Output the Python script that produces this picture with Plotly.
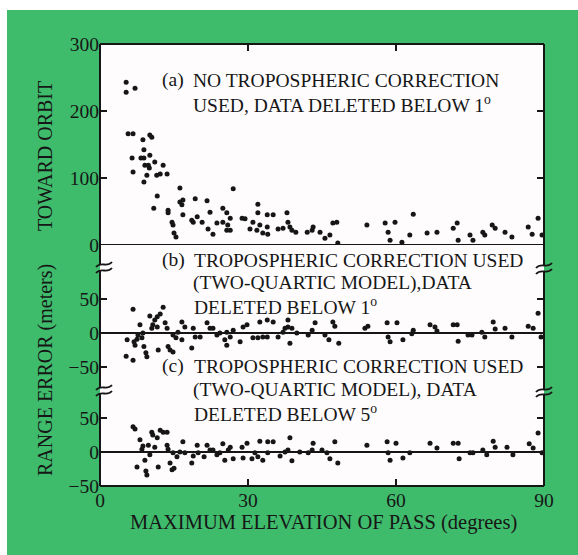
import plotly.graph_objects as go

# Range error vs. maximum elevation of pass, three correction cases
xa = [5.3, 5.3, 7.1, 5.7, 6.7, 6.5, 6.7, 8.7, 8.9, 8.9, 9.1, 9.5, 8.3, 10.1, 10.5, 9.8, 10.0, 10.1,
      8.9, 11.1, 11.5, 12.2, 12.8, 13.6, 10.9, 11.6, 13.8, 13.8, 14.6, 14.8, 15.0, 15.4, 16.2, 16.2,
      16.8, 16.6, 16.8, 19.3, 18.6, 18.9, 19.7, 20.7, 21.7, 22.3, 21.9, 22.9, 23.7, 24.9, 24.9, 25.7,
      25.9, 25.7, 26.4, 26.4, 27.0, 28.8, 29.4, 30.4, 31.0, 31.8, 32.0, 32.0, 32.4, 33.0, 33.9, 33.9,
      34.0, 35.1, 36.1, 37.1, 37.9, 38.1, 38.5, 38.9, 39.7, 42.0, 43.0, 43.2, 44.6, 45.6, 46.6, 47.2,
      48.0, 48.2, 54.1, 57.8, 58.4, 59.8, 58.8, 61.2, 62.8, 63.5, 66.3, 68.3, 71.6, 72.4, 72.6, 75.0,
      75.6, 77.6, 78.0, 79.5, 80.1, 82.1, 83.5, 86.8, 87.6, 88.8, 89.6]
ya = [243, 228, 234, 166, 166, 130, 109, 157, 142, 130, 119, 104, 130, 164, 161, 119, 115, 134,
      94, 124, 104, 106, 119, 106, 55, 73, 52, 48, 34, 30, 18, 12, 85, 64,
      67, 60, 45, 69, 37, 34, 42, 34, 66, 49, 24, 16, 33, 55, 34, 48,
      30, 22, 40, 22, 84, 40, 39, 24, 34, 22, 61, 48, 30, 18, 45, 27,
      16, 45, 24, 25, 48, 34, 27, 22, 19, 19, 22, 27, 19, 10, 15, 33,
      34, 3, 30, 33, 19, 34, 7, 4, 15, 46, 18, 19, 25, 33, 7, 15,
      7, 19, 15, 30, 25, 19, 12, 27, 16, 40, 15]

xb = [5.5, 5.3, 6.7, 6.7, 6.9, 7.1, 7.5, 7.7, 8.1, 8.5, 8.7, 8.9, 9.3, 9.5, 10.1, 10.5, 10.7, 11.1,
      11.6, 11.6, 11.8, 12.2, 12.8, 13.2, 13.6, 13.8, 14.2, 14.8, 14.8, 15.4, 15.8, 16.6, 16.6, 17.2,
      18.6, 18.9, 19.3, 20.3, 21.7, 22.3, 22.9, 23.7, 24.3, 25.3, 25.7, 25.7, 26.4, 27.0, 28.4, 29.0,
      29.8, 31.0, 32.0, 32.4, 33.0, 33.9, 33.9, 35.1, 36.1, 37.1, 37.5, 38.1, 38.1, 38.5, 38.9, 39.9,
      42.2, 43.0, 43.6, 45.6, 46.4, 47.2, 47.6, 48.4, 53.7, 54.3, 58.2, 58.4, 58.8, 60.2, 61.4, 63.2,
      63.5, 66.9, 67.9, 68.3, 71.6, 72.4, 72.6, 74.6, 75.4, 77.4, 78.0, 79.7, 80.1, 82.1, 83.5, 86.8,
      87.8, 88.8, 89.4]
yb = [-10, -34, 35, -40, -13, -18, -9, -3, 12, -7, 0, -20, -29, -35, 25, 7, 12, 19,
      24, 9, -25, 28, 38, 15, 7, -20, -25, -28, -3, -7, 1, 16, -10, 9,
      -22, 7, -6, -6, 15, 7, 7, -3, 0, -10, 1, -18, -6, 4, -13, 9,
      12, -7, -7, 16, -6, 19, -6, 16, -6, 1, 7, 19, 9, -15, 7, 0,
      -3, 4, 15, -3, -10, 16, 10, -15, 7, 10, 15, -6, -13, 15, -10, -1,
      4, 12, 9, 3, 12, 12, -12, -3, -3, 1, -6, 16, 6, 7, -6, 10,
      7, 29, -6]

xc = [6.7, 7.1, 7.5, 8.1, 8.5, 8.7, 9.1, 9.3, 9.5, 9.8, 10.1, 10.5, 10.7, 11.1, 11.6, 11.8, 12.2, 12.8,
      13.6, 13.6, 13.8, 14.2, 14.6, 15.0, 14.8, 15.6, 16.2, 16.8, 17.2, 18.6, 18.9, 19.7, 19.9, 21.1,
      21.7, 22.3, 22.9, 23.7, 24.3, 24.9, 25.3, 26.0, 26.4, 27.0, 28.8, 29.0, 29.8, 30.8, 31.4, 32.0,
      32.4, 33.0, 34.0, 34.0, 35.1, 36.5, 37.5, 38.5, 38.1, 38.9, 40.5, 42.2, 43.2, 43.0, 45.0, 46.0,
      46.6, 47.6, 48.2, 54.1, 58.2, 58.4, 58.8, 60.0, 61.4, 62.8, 66.9, 68.3, 71.6, 72.6, 72.8, 75.0,
      75.6, 77.6, 78.4, 79.7, 80.1, 82.5, 83.7, 87.0, 87.8, 88.8, 89.6]
yc = [37, 34, -22, 18, 4, 9, -12, -28, -34, 10, -4, 29, 25, 7, 21, -22, 32, 29,
      29, 10, 4, -16, -26, -24, -1, -7, 0, 15, -1, -16, -6, 10, -1, -7,
      10, 3, 3, -4, -1, 12, -12, 3, 7, -10, 7, -9, 13, -10, -1, -7,
      16, -12, 15, -1, 15, -6, 0, 21, 3, -13, 0, -1, 13, 3, 3, -1,
      -10, 15, -16, 10, 15, -1, -12, 13, -9, -1, 13, 6, 13, 13, -10, -1,
      -1, 3, -4, 16, 7, 7, -4, 12, 6, 28, -1]

x_ticks = [0, 30, 60, 90]
ya_ticks = [0, 100, 200, 300]
yb_ticks = [-50, 0, 50]
yc_ticks = [-50, 0, 50]

W, H = 578, 555
L, R, T, B = 100, 544, 44, 486
FONT = "Liberation Serif"
INK = "#161616"
GREEN = "#3fbb6c"


def fx(p):
    return (p - L) / (R - L)


def fy(p):
    return (B - p) / (B - T)


dom_a = [fy(245), 1.0]
dom_b = [fy(390), fy(245)]
dom_c = [0.0, fy(390)]

marker = dict(size=5, color=INK)
fig = go.Figure()
fig.add_trace(go.Scatter(x=xa, y=ya, mode="markers", marker=marker, xaxis="x2", yaxis="y"))
fig.add_trace(go.Scatter(x=xb, y=yb, mode="markers", marker=marker, xaxis="x", yaxis="y2"))
fig.add_trace(go.Scatter(x=xc, y=yc, mode="markers", marker=marker, xaxis="x", yaxis="y3"))

tickfont = dict(family=FONT, size=19.5, color=INK)
common_y = dict(ticks="inside", ticklen=7, tickwidth=1.5, tickcolor=INK, showgrid=False,
                zeroline=False, showline=False, mirror="ticks", tickfont=tickfont,
                fixedrange=True)
common_x = dict(range=[0, 90], tickvals=x_ticks, ticks="inside", ticklen=7, tickwidth=1.5,
                tickcolor=INK, showgrid=False, zeroline=False, showline=False,
                tickfont=tickfont, fixedrange=True)

fig.update_layout(
    width=W, height=H, autosize=False,
    margin=dict(l=L, r=W - R, t=T, b=H - B, pad=0),
    paper_bgcolor=GREEN, plot_bgcolor="#fefcfd",
    showlegend=False,
    xaxis=dict(common_x, anchor="y3", domain=[0, 1]),
    xaxis2=dict(common_x, anchor="y", domain=[0, 1], side="top", matches="x",
                showticklabels=False),
    yaxis=dict(common_y, anchor="x2", domain=dom_a, range=[0, 300], tickvals=ya_ticks),
    yaxis2=dict(common_y, anchor="x", domain=dom_b, range=[-83.8, 129.4], tickvals=yb_ticks),
    yaxis3=dict(common_y, anchor="x", domain=dom_c, range=[-50, 91.2], tickvals=yc_ticks),
)

shapes = []
line = dict(color=INK, width=2)

# white margins around the green page
shapes.append(dict(type="rect", xref="paper", yref="paper", x0=fx(0), x1=fx(7), y0=fy(H), y1=fy(0),
                   fillcolor="white", line=dict(width=0), layer="above"))
shapes.append(dict(type="rect", xref="paper", yref="paper", x0=fx(0), x1=fx(W), y0=fy(10), y1=fy(0),
                   fillcolor="white", line=dict(width=0), layer="above"))

# zero reference lines for each panel
for yref in ("y", "y2", "y3"):
    shapes.append(dict(type="line", xref="paper", yref=yref, x0=0, x1=1, y0=0, y1=0, line=line))

# outer frame with broken side axes
def seg(x0, y0, x1, y1):
    shapes.append(dict(type="line", xref="paper", yref="paper",
                       x0=fx(x0), y0=fy(y0), x1=fx(x1), y1=fy(y1), line=line))

seg(L, T, R, T)
seg(L, B, R, B)
seg(L, T, L, 265)
seg(L, 271, L, 388)
seg(L, 394, L, B)
seg(R, T, R, 266)
seg(R, 272, R, 390)
seg(R, 395, R, B)


def squiggle(cx, cy):
    pts = [(cx - 8, cy + 2), (cx - 3, cy - 4), (cx + 3, cy + 3), (cx + 8, cy - 3)]
    p = [f"{fx(a):.5f},{fy(b):.5f}" for a, b in pts]
    shapes.append(dict(type="path", xref="paper", yref="paper",
                       path=f"M {p[0]} C {p[1]} {p[2]} {p[3]}",
                       line=dict(color=INK, width=1.8)))


for cx, cy in [(104, 265), (104, 271), (104, 388), (104, 394),
               (544, 266), (544, 272), (544, 390), (544, 395)]:
    squiggle(cx, cy)

fig.update_layout(shapes=shapes)

ann = []


def label(x, y, text, xanchor="left", angle=0, size=19.5):
    ann.append(dict(xref="paper", yref="paper", x=fx(x), y=fy(y), text=text, showarrow=False,
                    xanchor=xanchor, yanchor="middle", textangle=angle,
                    font=dict(family=FONT, size=size, color=INK)))


label(160, 80, "(a)")
label(191, 80, "NO TROPOSPHERIC CORRECTION")
label(191, 104, "USED, DATA DELETED BELOW 1<sup>o</sup>")
label(160, 260, "(b)")
label(192, 260, "TROPOSPHERIC CORRECTION USED")
label(191, 283, "(TWO-QUARTIC MODEL),DATA")
label(192, 306, "DELETED BELOW 1<sup>o</sup>")
label(160, 366, "(c)")
label(192, 366, "TROPOSPHERIC CORRECTION USED")
label(191, 390, "(TWO-QUARTIC MODEL), DATA")
label(192, 413, "DELETED BELOW 5<sup>o</sup>")

label(45, 156, "TOWARD ORBIT", xanchor="center", angle=-90, size=20)
label(45, 370, "RANGE ERROR (meters)", xanchor="center", angle=-90, size=20)
label(323, 522, "MAXIMUM ELEVATION OF PASS (degrees)", xanchor="center", size=20.5)

fig.update_layout(annotations=ann)

fig.write_html("out.html")
